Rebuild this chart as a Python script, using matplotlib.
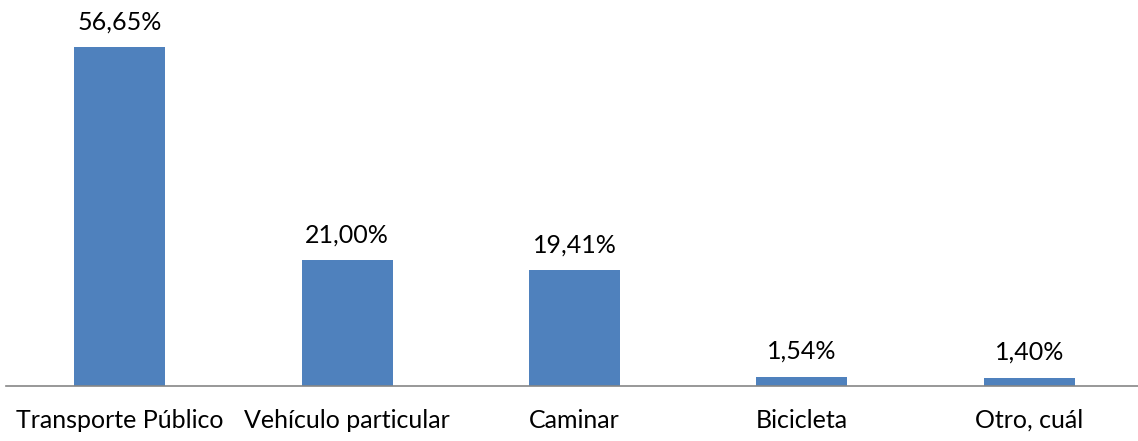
import matplotlib.pyplot as plt

categories = ['Transporte Público', 'Vehículo particular', 'Caminar', 'Bicicleta', 'Otro, cuál']
values = [56.65, 21.00, 19.41, 1.54, 1.40]
labels = ['56,65%', '21,00%', '19,41%', '1,54%', '1,40%']

plt.rcParams['font.family'] = ['Lato', 'DejaVu Sans']

fig = plt.figure(figsize=(11.38, 4.41), dpi=100)
ax = fig.add_axes([6 / 1138, (441 - 386) / 441, 1137 / 1138, 359 / 441])

x = range(len(categories))
ax.bar(x, values, width=0.4, color='#4F81BD')
for i, (v, lab) in enumerate(zip(values, labels)):
    ax.text(i, v + 2.3, lab, ha='center', va='bottom', fontsize=18, color='#000000')

ax.set_xlim(-0.5, len(categories) - 0.5)
ax.set_ylim(0, 60)
ax.set_xticks(list(x))
ax.set_xticklabels(categories, fontsize=18)
ax.tick_params(axis='x', length=0, pad=16.5)
ax.set_yticks([])
for s in ['top', 'right', 'left']:
    ax.spines[s].set_visible(False)
ax.spines['bottom'].set_color('#868686')
ax.spines['bottom'].set_linewidth(1.2)

fig.savefig('out.png', dpi=100)
